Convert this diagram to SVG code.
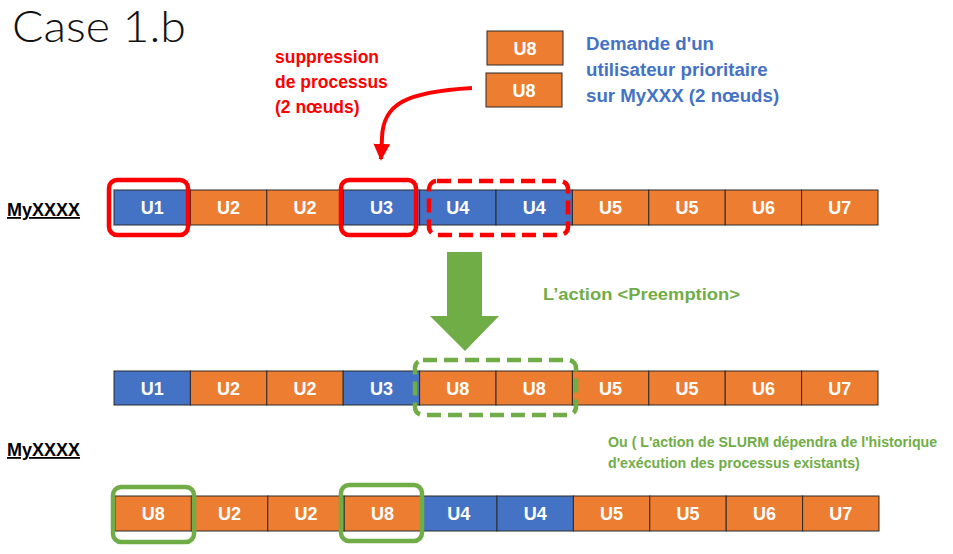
<svg xmlns="http://www.w3.org/2000/svg" width="953" height="554" viewBox="0 0 953 554">
<defs>
<style>
.b{fill:#4472C4;stroke:#2b2b2b;stroke-width:1}
.o{fill:#ED7D31;stroke:#2b2b2b;stroke-width:1}
.ct{font-family:"Liberation Sans",Arial,sans-serif;font-weight:bold;font-size:18px;fill:#fff;text-anchor:middle}
.lbl{font-family:"Liberation Sans",Arial,sans-serif;font-weight:bold;font-size:18px;fill:#000;text-decoration:underline}
.red{font-family:"Liberation Sans",Arial,sans-serif;font-weight:bold;font-size:17.5px;fill:#FF0000}
.blue{font-family:"Liberation Sans",Arial,sans-serif;font-weight:bold;font-size:18.7px;fill:#4472C4}
.green{font-family:"Liberation Sans",Arial,sans-serif;font-weight:bold;font-size:14.2px;fill:#70AD47}
.gbig{font-size:16px}
.rbox{fill:none;stroke:#FF0000;stroke-width:4.5}
.gbox{fill:none;stroke:#70AD47;stroke-width:4.5}
</style>
<marker id="rh" viewBox="0 0 10 10" refX="9" refY="5" markerWidth="4.2" markerHeight="4.2" orient="auto" markerUnits="strokeWidth">
<path d="M0 0 L10 5 L0 10 Z" fill="#FF0000"/>
</marker>
</defs>
<rect width="953" height="554" fill="#fff"/>
<text x="12" y="42" font-family="Lato,'Liberation Sans',Arial,sans-serif" font-weight="300" font-size="43" fill="#111" textLength="174" lengthAdjust="spacingAndGlyphs">Case 1.b</text>

<g id="label-red">
<text class="red" x="275" y="63">suppression</text>
<text class="red" x="275" y="88">de processus</text>
<text class="red" x="275" y="113">(2 nœuds)</text>
</g>
<g id="request">
<rect class="o" x="487" y="31" width="76" height="34"/>
<text class="ct" x="525" y="54.5">U8</text>
<rect class="o" x="486" y="73" width="76" height="34"/>
<text class="ct" x="524" y="96.5">U8</text>
</g>
<g id="label-blue">
<text class="blue" x="586" y="50">Demande d'un</text>
<text class="blue" x="586" y="76">utilisateur prioritaire</text>
<text class="blue" x="586" y="102">sur MyXXX (2 nœuds)</text>
</g>

<g id="row1">
<text class="lbl" x="7" y="216">MyXXXX</text>
<rect class="b" x="114" y="190" width="76.4" height="35"/><text class="ct" x="152.2" y="214">U1</text>
<rect class="o" x="190.4" y="190" width="76.4" height="35"/><text class="ct" x="228.6" y="214">U2</text>
<rect class="o" x="266.8" y="190" width="76.4" height="35"/><text class="ct" x="305" y="214">U2</text>
<rect class="b" x="343.2" y="190" width="76.4" height="35"/><text class="ct" x="381.4" y="214">U3</text>
<rect class="b" x="419.6" y="190" width="76.4" height="35"/><text class="ct" x="457.8" y="214">U4</text>
<rect class="b" x="496" y="190" width="76.4" height="35"/><text class="ct" x="534.2" y="214">U4</text>
<rect class="o" x="572.4" y="190" width="76.4" height="35"/><text class="ct" x="610.6" y="214">U5</text>
<rect class="o" x="648.8" y="190" width="76.4" height="35"/><text class="ct" x="687" y="214">U5</text>
<rect class="o" x="725.2" y="190" width="76.4" height="35"/><text class="ct" x="763.4" y="214">U6</text>
<rect class="o" x="801.6" y="190" width="76.4" height="35"/><text class="ct" x="839.8" y="214">U7</text>
</g>
<g id="hl-red">
<rect class="rbox" x="109" y="180" width="79" height="55" rx="8"/>
<rect class="rbox" x="341" y="180" width="75" height="55" rx="8"/>
<rect class="rbox" x="429" y="181" width="139" height="54" rx="8" stroke-dasharray="14 7"/>
</g>

<g id="row2">
<rect class="b" x="114" y="371" width="76.4" height="34"/><text class="ct" x="152.2" y="394.5">U1</text>
<rect class="o" x="190.4" y="371" width="76.4" height="34"/><text class="ct" x="228.6" y="394.5">U2</text>
<rect class="o" x="266.8" y="371" width="76.4" height="34"/><text class="ct" x="305" y="394.5">U2</text>
<rect class="b" x="343.2" y="371" width="76.4" height="34"/><text class="ct" x="381.4" y="394.5">U3</text>
<rect class="o" x="419.6" y="371" width="76.4" height="34"/><text class="ct" x="457.8" y="394.5">U8</text>
<rect class="o" x="496" y="371" width="76.4" height="34"/><text class="ct" x="534.2" y="394.5">U8</text>
<rect class="o" x="572.4" y="371" width="76.4" height="34"/><text class="ct" x="610.6" y="394.5">U5</text>
<rect class="o" x="648.8" y="371" width="76.4" height="34"/><text class="ct" x="687" y="394.5">U5</text>
<rect class="o" x="725.2" y="371" width="76.4" height="34"/><text class="ct" x="763.4" y="394.5">U6</text>
<rect class="o" x="801.6" y="371" width="76.4" height="34"/><text class="ct" x="839.8" y="394.5">U7</text>
</g>
<g id="hl-green-dash">
<rect class="gbox" x="415" y="360" width="161" height="55" rx="8" stroke-dasharray="14 7"/>
</g>

<g id="row3">
<text class="lbl" x="7" y="456">MyXXXX</text>
<rect class="o" x="115" y="496" width="76.4" height="35"/><text class="ct" x="153.2" y="520">U8</text>
<rect class="o" x="191.4" y="496" width="76.4" height="35"/><text class="ct" x="229.6" y="520">U2</text>
<rect class="o" x="267.8" y="496" width="76.4" height="35"/><text class="ct" x="306" y="520">U2</text>
<rect class="o" x="344.2" y="496" width="76.4" height="35"/><text class="ct" x="382.4" y="520">U8</text>
<rect class="b" x="420.6" y="496" width="76.4" height="35"/><text class="ct" x="458.8" y="520">U4</text>
<rect class="b" x="497" y="496" width="76.4" height="35"/><text class="ct" x="535.2" y="520">U4</text>
<rect class="o" x="573.4" y="496" width="76.4" height="35"/><text class="ct" x="611.6" y="520">U5</text>
<rect class="o" x="649.8" y="496" width="76.4" height="35"/><text class="ct" x="688" y="520">U5</text>
<rect class="o" x="726.2" y="496" width="76.4" height="35"/><text class="ct" x="764.4" y="520">U6</text>
<rect class="o" x="802.6" y="496" width="76.4" height="35"/><text class="ct" x="840.8" y="520">U7</text>
</g>
<g id="hl-green">
<rect class="gbox" x="113" y="487" width="81" height="55" rx="8"/>
<rect class="gbox" x="341" y="485" width="81" height="56" rx="8"/>
</g>

<g id="label-green">
<text class="green gbig" x="543" y="300" textLength="197" lengthAdjust="spacingAndGlyphs">L’action &lt;Preemption&gt;</text>
<text class="green" x="608" y="447">Ou ( L'action de SLURM dépendra de l'historique</text>
<text class="green" x="608" y="468">d'exécution des processus existants)</text>
</g>

<g id="connectors">
<path d="M472 88 C405 92 383 104 382 138 L381 159" fill="none" stroke="#FF0000" stroke-width="4" marker-end="url(#rh)"/>
<polygon points="447,252 482,252 482,316 499,316 465,351 430,316 447,316" fill="#70AD47"/>
</g>
</svg>
